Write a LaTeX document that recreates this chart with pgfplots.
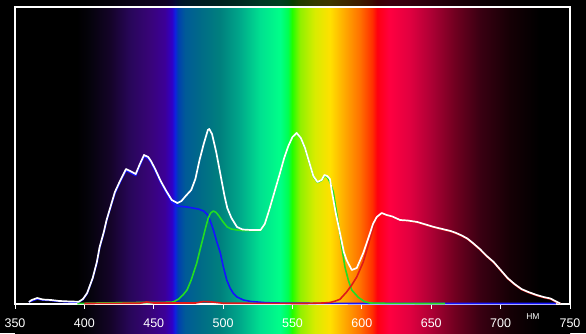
\documentclass[border=0pt]{standalone}
\usepackage{pgfplots}
\pgfplotsset{compat=1.18}
\usepackage{fontspec}
\setmainfont{Liberation Sans}
\definecolor{s1}{HTML}{05030C}
\definecolor{s2}{HTML}{140428}
\definecolor{s3}{HTML}{28065A}
\definecolor{s4}{HTML}{380478}
\definecolor{s5}{HTML}{3C0098}
\definecolor{s6}{HTML}{3000C8}
\definecolor{s7}{HTML}{1020E0}
\definecolor{s8}{HTML}{0040B0}
\definecolor{s9}{HTML}{005A98}
\definecolor{s10}{HTML}{006A88}
\definecolor{s11}{HTML}{00807E}
\definecolor{s12}{HTML}{00A88A}
\definecolor{s13}{HTML}{00E090}
\definecolor{s14}{HTML}{00FF88}
\definecolor{s15}{HTML}{00FF50}
\definecolor{s16}{HTML}{20FF00}
\definecolor{s17}{HTML}{90F000}
\definecolor{s18}{HTML}{D8EC00}
\definecolor{s19}{HTML}{FFE000}
\definecolor{s20}{HTML}{FFA800}
\definecolor{s21}{HTML}{FF7000}
\definecolor{s22}{HTML}{FF3000}
\definecolor{s23}{HTML}{FF0010}
\definecolor{s24}{HTML}{FF0040}
\definecolor{s25}{HTML}{E00040}
\definecolor{s26}{HTML}{B00035}
\definecolor{s27}{HTML}{700020}
\definecolor{s28}{HTML}{3A0012}
\definecolor{s29}{HTML}{150005}
\definecolor{cblue}{HTML}{1414FF}
\definecolor{cgreen}{HTML}{22DD22}
\definecolor{cred}{HTML}{E01818}
\pgfdeclarehorizontalshading{spectrum}{100bp}{color(0bp)=(black); color(25bp)=(black); color(30.59bp)=(black); color(31.75bp)=(s1); color(33.56bp)=(s2); color(35.38bp)=(s3); color(37.13bp)=(s4); color(38.5bp)=(s5); color(39.13bp)=(s6); color(39.41bp)=(s7); color(39.69bp)=(s8); color(40.31bp)=(s9); color(41.63bp)=(s10); color(43.46bp)=(s11); color(45.25bp)=(s12); color(47.08bp)=(s13); color(48.88bp)=(s14); color(49.6bp)=(s15); color(49.95bp)=(s16); color(50.68bp)=(s17); color(52bp)=(s18); color(53.38bp)=(s19); color(54.73bp)=(s20); color(56.08bp)=(s21); color(57.16bp)=(s22); color(57.63bp)=(s23); color(58.75bp)=(s24); color(60.59bp)=(s25); color(62.38bp)=(s26); color(64.63bp)=(s27); color(66.88bp)=(s28); color(69.6bp)=(s29); color(72.25bp)=(black); color(75bp)=(black); color(100bp)=(black)}
\begin{document}
\begin{tikzpicture}
\fill[black] (0,0) rectangle (586pt,333pt);
\path[use as bounding box] (0,0) rectangle (586pt,333pt);
\shade[shading=spectrum] (15pt,0) rectangle (570pt,333pt);
\fill[black, opacity=0.75] (15pt,326pt) rectangle (570pt,333pt);
\begin{axis}[
  at={(15pt,29pt)}, anchor=south west,
  scale only axis, width=555pt, height=297pt,
  xmin=350, xmax=750, ymin=0, ymax=297,
  axis line style={white, line width=1.2pt},
  ytick=\empty,
  xtick={350,400,...,750},
  xtick pos=lower,
  tick align=outside,
  major tick length=4.5pt,
  xtick style={white, line width=1pt},
  xticklabel style={text=white, font=\fontsize{12.5}{12.5}\selectfont, yshift=-7pt},
  /pgf/number format/assume math mode=true,
  clip=false,
]
\addplot[cblue, line width=1.6pt, line join=round] coordinates {
(360,2) (362,3) (366,5) (370,4) (376,3.5) (382,2.5) (390,2) (396,2) (399,4.5) (402,10.5) (406,25.5) (409,41) (411,56) (414,71) (416,83) (419,97) (422,110.5) (426,122.5) (430,133.5) (433,131.5) (437,128.5) (440,138.5) (443,147.5) (446,145.5) (448,141.5) (451,133.5) (455,121.5) (459,111.5) (463,102) (467,98) (470,97.5) (474,97) (478,96) (482,95) (486,93) (489,89) (491,82) (493,74) (495.5,62) (498,51) (500,38) (502.6,24) (505,16) (507.4,10.5) (510,7) (514.6,4) (520,2.5) (531,1.3) (545,0.8) (600,0.5) (740,0.5)
};
\addplot[cgreen, line width=1.6pt, line join=round] coordinates {
(395,0.5) (410,1) (440,1.5) (455,1.5) (464,2) (468,5) (471,9) (474,14) (477,24) (481,41) (483.5,55) (485.7,67) (487.5,77) (489.3,86) (491,91) (493,93) (495,91.5) (497,88) (500,82) (503,77) (506,75) (510,74) (514,73.5) (520,73.5) (527,73.5) (530,79.5) (533,92.5) (537,111.5) (541,130.5) (544,145.5) (547,157.5) (550,166.5) (553,170.5) (556,165.5) (559,155.5) (562,141.5) (565,127.5) (568,121.5) (571,123.5) (573,128) (575,127) (577,122) (579.4,112) (583,81) (585.5,57) (587.8,37) (590.2,24) (592.7,14) (597.4,6.7) (602,2.3) (606,1) (620,0.6) (660,0.5)
};
\addplot[cred, line width=1.6pt, line join=round] coordinates {
(400,0.5) (440,0.8) (445,2) (450,1) (480,1) (486,2.5) (492,2) (500,0.8) (560,0.5) (567,0.8) (572,1) (577,1.5) (581,3) (584.2,4.7) (589,12) (592.7,19) (596.3,27) (601,42) (604.6,59) (607,71) (610.7,86) (614.3,90.5) (617.9,88.5) (622,87) (627,84.5) (633,83) (640,81.5) (646,79) (652,76.5) (658,74.5) (664,72.5) (668,70.5) (672,68) (676,65) (680,60.5) (685,54.5) (690,47.5) (695,41.5) (700,33.5) (705,25.5) (710,19.5) (715,14.5) (720,11.5) (726,8.5) (731,6.5) (736,5) (740,2) (743,0.5)
};
\addplot[white, line width=1.7pt, line join=round] coordinates {
(360,2) (362,4) (366,6) (370,4.5) (376,4) (382,3) (390,2.5) (396,2.3) (399,5) (402,11) (406,26) (409,42) (411,57) (414,72) (416,84) (419,98) (422,112) (426,124) (430,135) (433,133) (437,130) (440,140) (443,149) (446,147) (448,143) (451,135) (455,123) (459,113) (463,104) (467,101) (470,103) (473,108) (477,114) (480,125) (483,144) (486,160) (489,174) (490,175) (492,170) (495,152) (498,130) (501,108) (503,96) (506,86) (510,77) (514,74.5) (520,74) (527,74) (530,80) (533,93) (537,112) (541,131) (544,146) (547,158) (550,167) (553,171) (556,166) (559,156) (562,142) (565,128) (568,122) (571,124) (573,129) (575,128) (577,125) (578.2,114) (581,92) (584.2,71) (587,52) (589,44) (592.7,34) (596.3,36) (601,51) (605.9,71) (608,80) (610.7,87) (614.3,91) (617.9,89) (622,87.5) (627.5,84) (633,83.5) (640,82) (646,79.5) (652,77) (658,75) (664,73) (668,71) (672,68.5) (676,65.5) (680,61) (685,55) (690,48) (695,42) (700,34) (705,26) (710,20) (715,15) (720,12) (726,9) (731,7) (736,5.5) (740,2.5) (743,0.5)
};
\node[text=white, font=\fontsize{8.5}{9}\selectfont] at (axis cs:723.3,-13) {НМ};
\end{axis}
\end{tikzpicture}
\end{document}
